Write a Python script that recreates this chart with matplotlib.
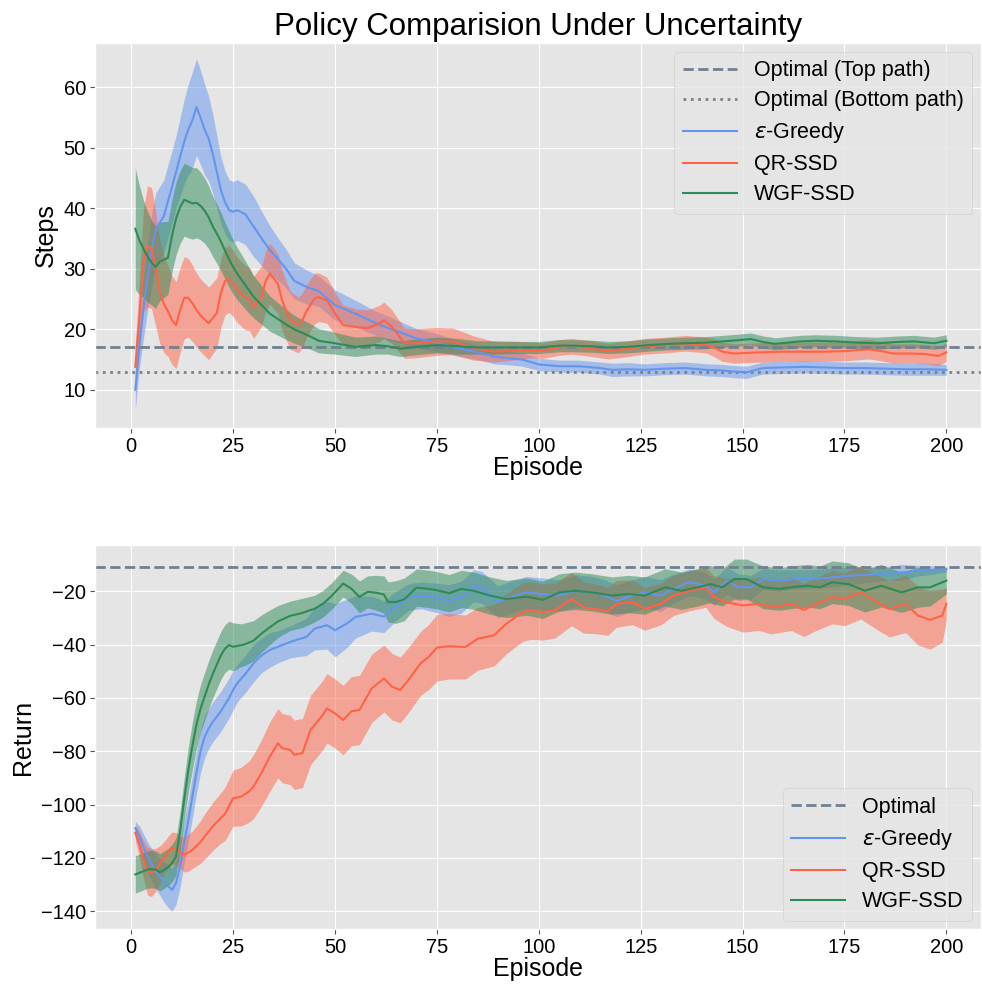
import numpy as np
import matplotlib
matplotlib.use("Agg")
import matplotlib.pyplot as plt

plt.style.use("ggplot")
plt.rcParams['font.family'] = ['Liberation Sans', 'DejaVu Sans']

# ---- Steps (top panel) ----
steps_optimal_top = 17
steps_optimal_bottom = 13

steps_ep_greedy = [1, 2, 3, 4, 5, 6, 8, 10, 11, 12, 13, 14, 15, 16, 17, 18, 19, 20, 21, 22, 23, 24, 25, 26, 28, 30,
                   32, 34, 36, 38, 40, 43, 46, 50, 55, 60, 63, 66, 70, 75, 80, 85, 89, 93, 96, 100, 105, 110, 115,
                   118, 122, 126, 131, 136, 141, 145, 148, 151, 155, 160, 165, 170, 175, 180, 185, 190, 195, 200]
steps_greedy = [10, 17.5, 23.5, 28.5, 33, 36.5, 38.7, 43.5, 46, 48.5, 51, 53, 54.5, 56.7, 55, 53, 51.5, 49, 46, 43,
                41, 39.7, 39.4, 39.7, 39, 37, 35, 33.1, 31.6, 30, 28, 27, 26.3, 24, 22.6, 21, 20.2, 19.5, 18.5, 17.8,
                16.9, 16.2, 15.5, 15.2, 15, 14.2, 13.9, 13.9, 13.6, 13.3, 13.4, 13.3, 13.5, 13.6, 13.3, 13.2, 13.0,
                12.9, 13.6, 13.7, 13.8, 13.7, 13.6, 13.6, 13.5, 13.4, 13.4, 13.3]
steps_greedy_err = [3.3, 4, 5, 5.5, 6, 6, 6, 6, 6, 6.5, 7, 7.5, 8, 8, 7.8, 7.5, 7, 6.5, 6, 5.5, 5.2, 5, 5, 5, 5, 5,
                    4.5, 4, 3.5, 3.2, 3, 2.8, 2.5, 2.5, 2.2, 2, 2, 1.8, 1.6, 1.5, 1.3, 1.2, 1.2, 1.1, 1.1, 1, 1, 1, 1,
                    1.1, 1.1, 1, 1, 1, 1, 1, 1, 1, 1, 1, 1, 1, 1, 1, 1, 1, 1, 0.9]

steps_ep_qr = [1, 2, 3, 4, 5, 6, 7, 8, 9, 10, 11, 12, 13, 14, 15, 16, 17, 19, 21, 22, 23, 24, 25, 26, 28, 29, 30, 32,
               33, 34, 36, 37, 39, 41, 42, 43, 45, 46, 48, 50, 52, 55, 58, 61, 62, 64, 67, 70, 75, 79, 84, 89, 95, 98,
               101, 105, 108, 113, 117, 122, 126, 131, 136, 141, 143, 145, 148, 151, 155, 160, 165, 170, 175, 181,
               184, 187, 192, 195, 198, 200]
steps_qr = [13.8, 22, 31.4, 33.7, 33.4, 30, 26.2, 24.2, 23, 21.5, 20.7, 23.2, 25.2, 25.2, 24.3, 23.2, 22.3, 21, 22.7,
            26, 28, 28.3, 27.6, 26.5, 25.2, 25, 23.6, 25.5, 28, 29.2, 27.5, 24.8, 21.5, 20.7, 21.5, 23, 25.1, 25.3,
            24.8, 22.6, 20.7, 20.4, 20.2, 21, 21.5, 20.4, 17.7, 17.7, 18, 18, 16.9, 16.3, 16.5, 16.6, 16.5, 17,
            17.2, 16.8, 16.4, 16.8, 17.2, 17.4, 17.7, 17.4, 17, 16.3, 16, 16.1, 16.2, 16.3, 16.3, 16.3, 16.4, 16.7,
            16.4, 16, 16, 15.9, 15.6, 16.2]
steps_qr_err = [4, 6, 8.5, 10, 10, 9.5, 8.5, 8, 7.5, 7.3, 7.2, 7, 6.8, 6.5, 6.3, 6.1, 6, 6, 5.8, 5.7, 5.6, 5.5, 5.5,
                5.4, 5.3, 5.2, 5.1, 5, 5, 5, 5, 4.9, 4.8, 4.6, 4.5, 4.4, 4.2, 4, 3.8, 3.5, 3.3, 3, 3, 3, 3, 2.8, 2.5,
                2.4, 2.3, 2.2, 2, 1.7, 1.5, 1.3, 1.3, 1.3, 1.3, 1.3, 1.3, 1.3, 1.3, 1.3, 1.3, 1.3, 1.5, 1.6, 1.6,
                1.6, 1.6, 1.6, 1.6, 1.6, 1.6, 1.6, 1.6, 1.6, 1.6, 1.6, 1.6, 1.5]

steps_ep_wgf = [1, 2, 3, 4, 5, 6, 7, 8, 9, 10, 11, 12, 13, 14, 15, 16, 17, 18, 19, 20, 21, 22, 23, 24, 25, 26, 28, 30,
                32, 34, 36, 38, 40, 42, 44, 46, 50, 55, 60, 63, 66, 70, 75, 80, 85, 89, 95, 100, 105, 108, 113, 117,
                122, 127, 132, 136, 141, 145, 149, 152, 155, 158, 161, 164, 168, 173, 178, 183, 188, 192, 197, 200]
steps_wgf = [36.6, 34.7, 33.3, 32, 31, 30.3, 31.2, 31.5, 31.8, 35.5, 38.3, 40.2, 41.4, 41.1, 40.8, 40.9, 40.4, 39.6,
             38.5, 37, 35.8, 34.5, 33, 31.6, 30.3, 29.2, 27.3, 25.4, 24, 22.6, 21.7, 20.8, 20, 19.4, 18.8, 18.1, 17.7,
             17.1, 17.4, 17.2, 16.8, 17.1, 17.4, 17.2, 17.0, 17.0, 17.0, 17.0, 17.3, 17.3, 17.2, 17.0, 17.1, 17.4,
             17.6, 17.7, 17.8, 18.0, 18.2, 18.4, 17.9, 17.6, 17.8, 18.0, 18.1, 18.0, 17.8, 17.7, 17.9, 18.0, 17.7,
             18.1]
steps_wgf_err = [10, 9, 8, 7.5, 7, 6.8, 6.5, 6.3, 6, 6, 6, 6, 6, 6, 5.9, 5.8, 5.6, 5.4, 5.2, 5, 4.9, 4.8, 4.7, 4.6,
                 4.5, 4.3, 4, 3.5, 3.2, 2.9, 2.7, 2.5, 2.3, 2.2, 2.1, 2, 1.8, 1.6, 1.5, 1.3, 1.3, 1.3, 1.3, 1.3, 1.1,
                 1.1, 1, 1, 1, 1, 1, 1, 1, 1, 1, 1, 1, 1, 1, 1, 1, 1, 1, 1, 1, 1, 1, 1, 1, 1, 1, 1]

# ---- Return (bottom panel) ----
return_optimal = -11

ret_ep_greedy = [1, 2, 3, 4, 5, 6, 7, 8, 9, 10, 11, 12, 13, 14, 15, 16, 17, 18, 19, 20, 21, 22, 23, 24, 25, 26, 28,
                 30, 32, 34, 36, 39, 41, 43, 45, 48, 50, 53, 55, 59, 62, 65, 68, 71, 75, 78, 81, 84, 86, 90, 93, 97,
                 101, 105, 109, 113, 116, 119, 123, 126, 130, 133, 137, 141, 143, 146, 149, 152, 155, 159, 163, 167,
                 172, 176, 180, 185, 189, 193, 197, 200]
ret_greedy = [-108.8, -112, -116, -119.4, -122.5, -125, -127, -129, -130.5, -132, -129.4, -123, -114, -106, -97, -88,
              -80, -74.5, -71.5, -69, -67, -65, -62.5, -60, -57, -54.5, -51, -47, -44, -42, -40.8, -39, -38, -37.1,
              -34, -32.7, -34.6, -32, -29.6, -28.4, -29.5, -25.5, -22.2, -21.5, -22.5, -23.5, -22.2, -17.9, -18.5,
              -24, -22.2, -20.4, -21, -21.6, -19.8, -20.4, -21.5, -23.5, -21.6, -20.4, -21.6, -19.1, -16.6, -17.9,
              -20.4, -16, -18.5, -18.5, -15.4, -16, -15.4, -15.4, -14.8, -14.2, -13.8, -13.5, -12.9, -12.3, -12,
              -11.7]
ret_greedy_err = [2.5, 4, 5, 5.5, 6, 6.5, 7, 7.5, 8, 8, 8, 8, 8, 8, 8, 8, 8, 8, 7.5, 7.5, 7.5, 7.5, 7.5, 7.5, 7.5, 7,
                  7, 7, 6.5, 6.5, 6, 6, 6.5, 7, 8, 9, 10, 9, 8, 6.5, 6, 5.5, 5, 5, 5.5, 6, 6, 6, 6, 6, 6, 6, 6, 6, 6,
                  6, 6, 6, 6, 6, 6, 5.5, 5, 5, 5, 5, 5, 4.5, 4, 4, 3.5, 3.5, 3.5, 3.5, 3, 2.5, 3, 2, 1.5, 1]

ret_ep_qr = [1, 2, 3, 4, 5, 6, 7, 8, 9, 10, 11, 12, 13, 14, 15, 16, 17, 18, 20, 22, 23, 25, 27, 29, 30, 32, 34, 36, 37,
             39, 40, 42, 44, 47, 48, 50, 52, 54, 56, 59, 62, 64, 66, 68, 71, 73, 75, 78, 82, 85, 89, 92, 96, 98, 101,
             104, 108, 111, 114, 117, 119, 123, 126, 130, 133, 137, 141, 143, 146, 150, 154, 157, 162, 165, 168, 172,
             175, 179, 183, 186, 190, 193, 196, 199, 200]
ret_qr = [-110.6, -115, -120.6, -125, -125.5, -124.5, -122.5, -120, -118, -116.3, -116.5, -118, -118.8, -118, -117,
          -115.5, -114, -112, -108.2, -105, -103.5, -97.6, -97, -95, -93.2, -88, -82, -77, -78.8, -79.5, -81.3,
          -80.7, -72, -66.4, -63.9, -65.8, -68.3, -65, -64.5, -56.4, -52.7, -55.8, -57, -53.3, -47, -44.6, -41.1,
          -40.6, -40.9, -37.8, -36.5, -32.2, -27.8, -27.2, -27.8, -27.2, -22.9, -26, -26.6, -27.5, -24.7, -24.1,
          -26.6, -24.7, -21.6, -19.8, -18.5, -22.2, -24.1, -25.3, -24.7, -26, -24.7, -27, -24.7, -22.2, -22.9,
          -20.4, -24.1, -26.6, -24.7, -29.1, -30.7, -29.1, -24.7]
ret_qr_err = [3, 5, 7, 9, 9, 8, 7, 6, 6, 6, 6, 6, 6.5, 7, 7, 7.5, 8, 8.5, 9, 9.5, 10, 10.5, 11, 11.5, 12, 12.5, 13,
              13, 13, 13, 13, 13, 13, 13, 13, 13, 13, 13, 13, 12.8, 12.5, 12.5, 12.3, 12.2, 12, 12.2, 12.5, 12.3, 12,
              11.8, 11.5, 11.3, 11, 10.8, 10.5, 10.3, 10, 9.7, 9.3, 9, 8.8, 8.4, 8, 7.8, 7.5, 7.5, 7.5, 8, 9, 10, 10,
              10, 10, 10, 10, 10, 10, 10, 10.3, 10.5, 10.8, 11, 11, 10, 6]

ret_ep_wgf = [1, 3, 4, 5, 6, 7, 8, 9, 10, 11, 12, 13, 14, 15, 16, 17, 18, 19, 20, 21, 22, 23, 24, 25, 26, 27, 28, 30,
              32, 34, 36, 39, 42, 45, 47, 49, 52, 54, 56, 58, 60, 62, 63, 65, 67, 70, 73, 75, 78, 81, 84, 88, 92, 97,
              101, 105, 109, 113, 118, 122, 126, 131, 135, 139, 142, 145, 148, 151, 155, 159, 163, 166, 169, 172, 176,
              180, 184, 189, 193, 196, 200]
ret_wgf = [-126.2, -125, -124.4, -124.2, -124.4, -125.4, -124.5, -123.5, -122, -119.4, -110, -98, -87, -78, -70, -64,
           -59.5, -55, -51, -47.5, -44, -41.5, -40.2, -40.8, -40.5, -40.2, -39.8, -38.5, -35.8, -33.5, -31.3, -29.2,
           -28.1, -26.5, -24.7, -22, -17.1, -19, -22.1, -20.2, -20.5, -21.2, -24, -24, -23, -18.6, -19.1, -19.6,
           -20.7, -19.1, -19.8, -21.6, -22.9, -22, -23.2, -20.4, -19.8, -20.4, -21.6, -21, -21.6, -18.5, -19.8,
           -18.5, -17.3, -18.5, -15.4, -15.4, -18.5, -19.1, -18.3, -17.9, -18.5, -16.6, -17.3, -19.8, -17.9, -20.4,
           -18.5, -18.5, -16]
ret_wgf_err = [7, 7, 7, 7, 7, 7, 7, 7, 7, 7, 7.5, 8, 8.5, 9, 9, 9, 9, 9, 9, 9, 9, 9, 9, 9, 8.5, 8, 8, 7.5, 7, 6.5, 6,
               5.5, 5.5, 5, 5, 5, 5, 5.5, 6, 6, 6.5, 7, 7.5, 8, 8, 7, 7, 7, 7, 7, 7, 7, 7, 7, 7, 7, 7, 7, 7, 7, 7, 7,
               7, 7, 7, 7, 7.5, 7.5, 8, 8, 8, 8, 8, 8, 8, 8, 8, 7.5, 7.5, 7, 5]

c_greedy = "cornflowerblue"
c_qr = "tomato"
c_wgf = "seagreen"


def draw(ax, ep, mean, err, color, label):
    ep = np.array(ep)
    mean = np.array(mean)
    err = np.array(err)
    ax.fill_between(ep, mean - err, mean + err, color=color, alpha=0.5, linewidth=0)
    ax.plot(ep, mean, color=color, linewidth=1.5, label=label)


def style(ax, ylabel):
    ax.set_xlabel("Episode", fontsize=18, color="black", labelpad=0)
    ax.set_ylabel(ylabel, fontsize=18, color="black")
    ax.tick_params(axis="both", labelsize=14.5, labelcolor="black", color="#555555", pad=3)
    ax.set_xticks([0, 25, 50, 75, 100, 125, 150, 175, 200])
    ax.set_xlim(-8.9, 208.5)


fig = plt.figure(figsize=(9.82, 9.85), dpi=100)
ax1 = fig.add_axes([0.0967, 0.5655, 0.9023, 0.3909])
ax2 = fig.add_axes([0.0967, 0.0565, 0.9023, 0.3900])

leg_kw = dict(fontsize=15.5, handlelength=2.5, labelspacing=0.42, borderaxespad=0.4)

ax1.axhline(steps_optimal_top, color="slategray", linestyle="--", linewidth=2, label="Optimal (Top path)")
ax1.axhline(steps_optimal_bottom, color="gray", linestyle=":", linewidth=2, label="Optimal (Bottom path)")
draw(ax1, steps_ep_greedy, steps_greedy, steps_greedy_err, c_greedy, r"$\epsilon$-Greedy")
draw(ax1, steps_ep_qr, steps_qr, steps_qr_err, c_qr, "QR-SSD")
draw(ax1, steps_ep_wgf, steps_wgf, steps_wgf_err, c_wgf, "WGF-SSD")
ax1.set_ylim(3.7, 67.3)
ax1.set_yticks([10, 20, 30, 40, 50, 60])
style(ax1, "Steps")
ax1.set_title("Policy Comparision Under Uncertainty", fontsize=22.5, color="black")
ax1.legend(loc="upper right", **leg_kw)

ax2.axhline(return_optimal, color="slategray", linestyle="--", linewidth=2, label="Optimal")
draw(ax2, ret_ep_greedy, ret_greedy, ret_greedy_err, c_greedy, r"$\epsilon$-Greedy")
draw(ax2, ret_ep_qr, ret_qr, ret_qr_err, c_qr, "QR-SSD")
draw(ax2, ret_ep_wgf, ret_wgf, ret_wgf_err, c_wgf, "WGF-SSD")
ax2.set_ylim(-146.8, -2.7)
ax2.set_yticks([-140, -120, -100, -80, -60, -40, -20])
style(ax2, "Return")
ax2.legend(loc="lower right", **leg_kw)

fig.savefig("out.png", dpi=100)
